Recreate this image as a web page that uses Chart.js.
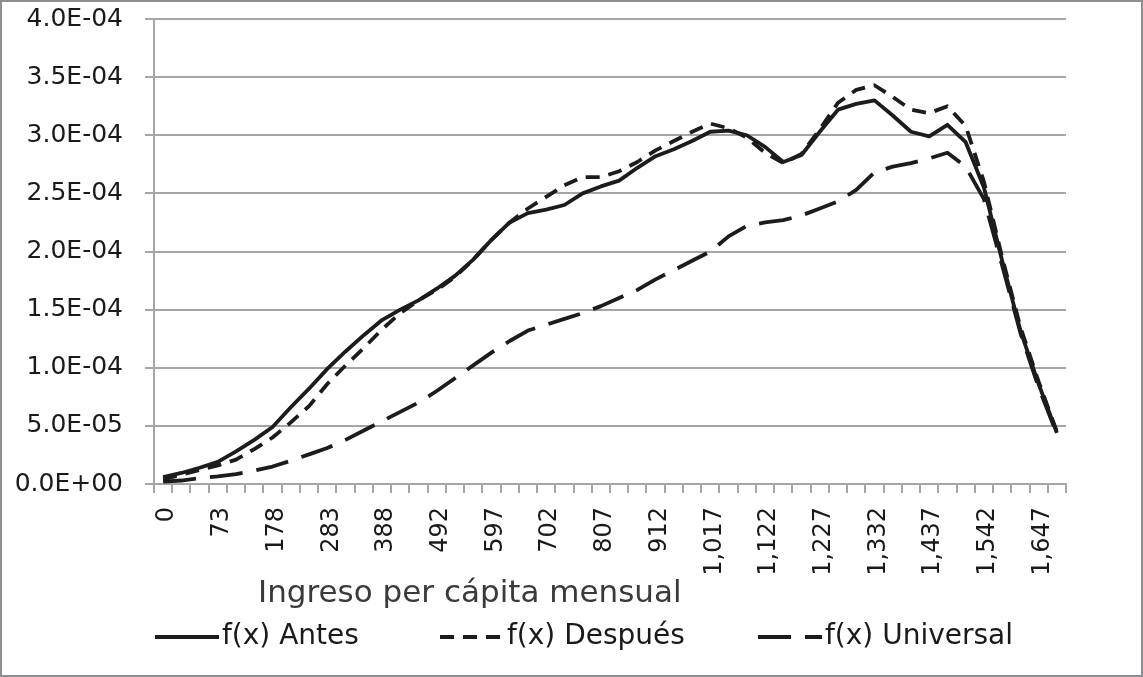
<!DOCTYPE html>
<html>
<head>
<meta charset="utf-8">
<script src="https://cdn.jsdelivr.net/npm/chart.js@4/dist/chart.umd.min.js"></script>
<style>
  html, body { margin: 0; padding: 0; background: #ffffff; }
  #wrap { position: relative; width: 1143px; height: 677px; }
  #c { position: absolute; left: 0; top: 0; }
  #frame { position: absolute; left: 0; top: 0; width: 1143px; height: 677px; box-sizing: border-box; border: 2px solid #8c8f92; pointer-events: none; }
</style>
</head>
<body>
<div id="wrap">
  <canvas id="c" width="1143" height="677"></canvas>
  <div id="frame"></div>
</div>
<script>
// ---- data ----
const categories = ['0','3','38','73','108','143','178','213','248','283','318','353','388','423','458','492','527','562','597','632','667','702','737','772','807','842','877','912','947','982','1,017','1,052','1,087','1,122','1,157','1,192','1,227','1,262','1,297','1,332','1,367','1,402','1,437','1,472','1,507','1,542','1,577','1,612','1,647','1,682'];

const antes = [6.0e-6,9.5e-6,1.4e-5,1.9e-5,2.8e-5,3.8e-5,4.9e-5,6.6e-5,8.2e-5,9.9e-5,
  1.14e-4,1.28e-4,1.41e-4,1.50e-4,1.58e-4,1.68e-4,1.79e-4,1.93e-4,2.10e-4,2.25e-4,
  2.33e-4,2.36e-4,2.40e-4,2.50e-4,2.56e-4,2.61e-4,2.72e-4,2.82e-4,2.88e-4,2.95e-4,
  3.03e-4,3.04e-4,3.00e-4,2.90e-4,2.77e-4,2.83e-4,3.03e-4,3.22e-4,3.27e-4,3.30e-4,
  3.17e-4,3.03e-4,2.99e-4,3.09e-4,2.94e-4,2.55e-4,1.92e-4,1.32e-4,8.6e-5,4.4e-5];

const despues = [4.0e-6,8.0e-6,1.2e-5,1.6e-5,2.1e-5,3.0e-5,4.0e-5,5.3e-5,6.7e-5,8.6e-5,
  1.02e-4,1.17e-4,1.33e-4,1.47e-4,1.58e-4,1.67e-4,1.78e-4,1.93e-4,2.10e-4,2.25e-4,
  2.37e-4,2.47e-4,2.57e-4,2.64e-4,2.64e-4,2.69e-4,2.77e-4,2.87e-4,2.95e-4,3.03e-4,
  3.10e-4,3.06e-4,2.98e-4,2.85e-4,2.76e-4,2.84e-4,3.05e-4,3.28e-4,3.39e-4,3.43e-4,
  3.33e-4,3.22e-4,3.19e-4,3.25e-4,3.08e-4,2.60e-4,1.95e-4,1.35e-4,8.8e-5,4.5e-5];

const universal = [2.0e-6,3.0e-6,5.0e-6,6.5e-6,8.5e-6,1.15e-5,1.5e-5,2.0e-5,2.55e-5,3.1e-5,
  3.8e-5,4.6e-5,5.4e-5,6.2e-5,7.0e-5,8.0e-5,9.1e-5,1.02e-4,1.13e-4,1.23e-4,
  1.32e-4,1.37e-4,1.42e-4,1.47e-4,1.53e-4,1.60e-4,1.67e-4,1.76e-4,1.84e-4,1.92e-4,
  2.00e-4,2.13e-4,2.22e-4,2.25e-4,2.27e-4,2.31e-4,2.37e-4,2.43e-4,2.53e-4,2.68e-4,
  2.73e-4,2.76e-4,2.80e-4,2.85e-4,2.73e-4,2.45e-4,1.88e-4,1.30e-4,8.3e-5,4.3e-5];

const seriesNames = ['f(x) Antes', 'f(x) Después', 'f(x) Universal'];
const xTitle = 'Ingreso per cápita mensual';
const yMin = 0, yMax = 4.0e-4, yStep = 5.0e-5;

// ---- helpers ----
function sci(v) {
  if (Math.abs(v) < 1e-12) return '0.0E+00';
  const s = v.toExponential(1);
  const parts = s.split('e');
  const n = parseInt(parts[1], 10);
  return parts[0] + 'E' + (n < 0 ? '-' : '+') + String(Math.abs(n)).padStart(2, '0');
}

const FONT = "'DejaVu Sans', sans-serif";
const GRID = '#a6a6a6';
const INK = '#1c1c1c';

// x-axis title (placed left of centre as in the original)
const xTitlePlugin = {
  id: 'xTitlePlugin',
  afterDraw(chart) {
    const ctx = chart.ctx;
    const a = chart.chartArea;
    ctx.save();
    ctx.font = '31px ' + FONT;
    ctx.fillStyle = '#3a3a3a';
    ctx.textAlign = 'left';
    ctx.textBaseline = 'middle';
    ctx.fillText(xTitle, a.left + 104, a.bottom + 110);
    ctx.restore();
  }
};

// legend with dashed samples taken from the datasets' own styles
const legendOffsets = [1, 286, 604]; // sample start, relative to plot left
const lineLegendPlugin = {
  id: 'lineLegendPlugin',
  afterDraw(chart) {
    const ctx = chart.ctx;
    const a = chart.chartArea;
    const sampleLen = 64, textGap = 3;
    const y = a.bottom + 153;
    ctx.save();
    ctx.font = '28px ' + FONT;
    chart.data.datasets.forEach((ds, i) => {
      const x = a.left + legendOffsets[i];
      ctx.beginPath();
      ctx.setLineDash(ds.borderDash || []);
      ctx.lineWidth = ds.borderWidth;
      ctx.strokeStyle = ds.borderColor;
      ctx.lineCap = 'butt';
      ctx.moveTo(x, y);
      ctx.lineTo(x + sampleLen, y);
      ctx.stroke();
      ctx.setLineDash([]);
      ctx.fillStyle = '#1a1a1a';
      ctx.textAlign = 'left';
      ctx.textBaseline = 'middle';
      ctx.fillText(ds.label, x + sampleLen + textGap, y);
    });
    ctx.restore();
  }
};

new Chart(document.getElementById('c'), {
  type: 'line',
  data: {
    labels: categories,
    datasets: [
      { label: seriesNames[0], data: antes, borderColor: INK, backgroundColor: INK, borderWidth: 3.8, pointRadius: 0, tension: 0, borderJoinStyle: 'round', fill: false },
      { label: seriesNames[1], data: despues, borderColor: INK, backgroundColor: INK, borderWidth: 3.8, borderDash: [14, 9], pointRadius: 0, tension: 0, borderJoinStyle: 'round', fill: false },
      { label: seriesNames[2], data: universal, borderColor: INK, backgroundColor: INK, borderWidth: 3.8, borderDash: [33, 14], pointRadius: 0, tension: 0, borderJoinStyle: 'round', fill: false }
    ]
  },
  options: {
    responsive: false,
    animation: false,
    devicePixelRatio: 1,
    layout: { padding: { left: 0, top: 19, right: 77, bottom: 65.5 } },
    plugins: {
      tooltip: { enabled: false },
      title: { display: false },
      legend: { display: false }
    },
    scales: {
      x: {
        type: 'category',
        offset: true,
        afterFit(scale) { scale.height = 127.5; },
        grid: { display: true, drawOnChartArea: false, drawTicks: true, offset: true, tickLength: 9, color: GRID, lineWidth: 2 },
        border: { display: true, color: GRID, width: 2 },
        ticks: {
          autoSkip: false,
          minRotation: 90,
          maxRotation: 90,
          padding: 14,
          labelOffset: 4,
          color: '#1a1a1a',
          font: { family: FONT, size: 24 },
          callback(value, index) { return index % 3 === 0 ? categories[index] : ''; }
        }
      },
      y: {
        min: yMin,
        max: yMax,
        afterFit(scale) { scale.width = 154; scale.paddingTop = 0; scale.paddingBottom = 0; },
        grid: { display: true, drawTicks: true, tickLength: 9, color: GRID, lineWidth: 2 },
        border: { display: true, color: GRID, width: 2 },
        ticks: {
          stepSize: yStep,
          padding: 22,
          color: '#1a1a1a',
          font: { family: FONT, size: 25 },
          callback(value) { return sci(value); }
        }
      }
    }
  },
  plugins: [xTitlePlugin, lineLegendPlugin]
});
</script>
</body>
</html>
